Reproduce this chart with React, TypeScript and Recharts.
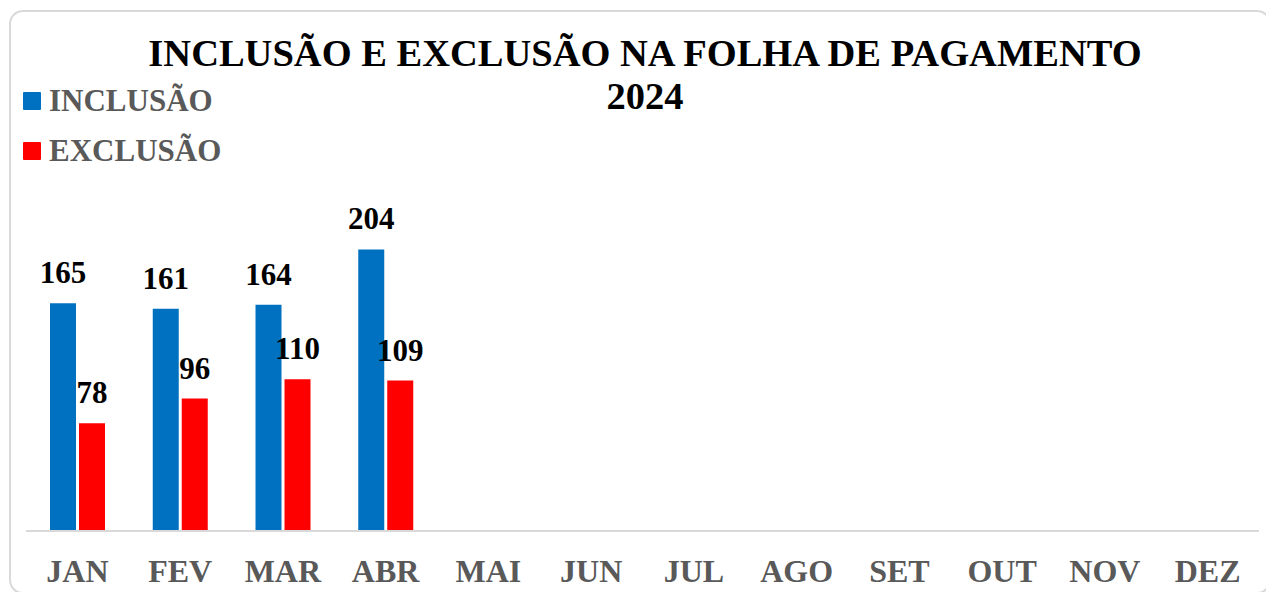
import { BarChart, Bar, XAxis, YAxis, LabelList } from "recharts";

const MONTHS = ["JAN", "FEV", "MAR", "ABR", "MAI", "JUN", "JUL", "AGO", "SET", "OUT", "NOV", "DEZ"];
const INCLUSAO = [165, 161, 164, 204, null, null, null, null, null, null, null, null];
const EXCLUSAO = [78, 96, 110, 109, null, null, null, null, null, null, null, null];

const BLUE = "#0070C0";
const RED = "#FF0000";
const GRAY = "#595959";
const FONT = '"Liberation Serif", "Times New Roman", serif';

const data = MONTHS.map((m, i) => ({
  month: m,
  inclusao: INCLUSAO[i],
  exclusao: EXCLUSAO[i],
}));

function LegendItem({ color, label, top }: { color: string; label: string; top: number }) {
  return (
    <div style={{ position: "absolute", left: 23, top, display: "flex", alignItems: "center" }}>
      <span style={{ width: 18, height: 18, background: color, display: "inline-block", borderRadius: 1 }} />
      <span style={{ marginLeft: 8, fontSize: 31, fontWeight: 700, color: GRAY, lineHeight: "30px" }}>{label}</span>
    </div>
  );
}

export default function App() {
  return (
    <div
      style={{
        position: "fixed",
        left: 0,
        top: 0,
        width: 1266,
        height: 592,
        background: "#fff",
        overflow: "hidden",
        fontFamily: FONT,
      }}
    >
      <div
        style={{
          position: "absolute",
          left: 9,
          top: 10,
          width: 1258,
          height: 580,
          border: "2px solid #d9d9d9",
          borderRadius: 14,
        }}
      />
      <div
        style={{
          position: "absolute",
          left: 0,
          width: 1290,
          top: 32,
          textAlign: "center",
          fontSize: 38.5,
          fontWeight: 700,
          color: "#000",
          lineHeight: "43px",
        }}
      >
        INCLUSÃO E EXCLUSÃO NA FOLHA DE PAGAMENTO
        <br />
        2024
      </div>
      <LegendItem color={BLUE} label="INCLUSÃO" top={86} />
      <LegendItem color={RED} label="EXCLUSÃO" top={136} />
      <div style={{ position: "absolute", left: 0, top: 0 }}>
        <BarChart
          width={1266}
          height={592}
          data={data}
          margin={{ top: 186, right: 7, left: 26, bottom: 0 }}
          barSize={26}
          barGap={3}
        >
          <XAxis
            dataKey="month"
            height={61}
            axisLine={{ stroke: "#d9d9d9", strokeWidth: 2 }}
            tickLine={false}
            tickSize={0}
            tickMargin={28}
            tick={{ fill: GRAY, fontSize: 32, fontWeight: 700, fontFamily: FONT }}
            interval={0}
          />
          <YAxis hide domain={[0, 250]} />
          <Bar dataKey="inclusao" fill={BLUE} isAnimationActive={false}>
            <LabelList
              dataKey="inclusao"
              position="top"
              offset={20}
              style={{ fill: "#000", fontSize: 31, fontWeight: 700, fontFamily: FONT }}
            />
          </Bar>
          <Bar dataKey="exclusao" fill={RED} isAnimationActive={false}>
            <LabelList
              dataKey="exclusao"
              position="top"
              offset={20}
              style={{ fill: "#000", fontSize: 31, fontWeight: 700, fontFamily: FONT }}
            />
          </Bar>
        </BarChart>
      </div>
    </div>
  );
}
